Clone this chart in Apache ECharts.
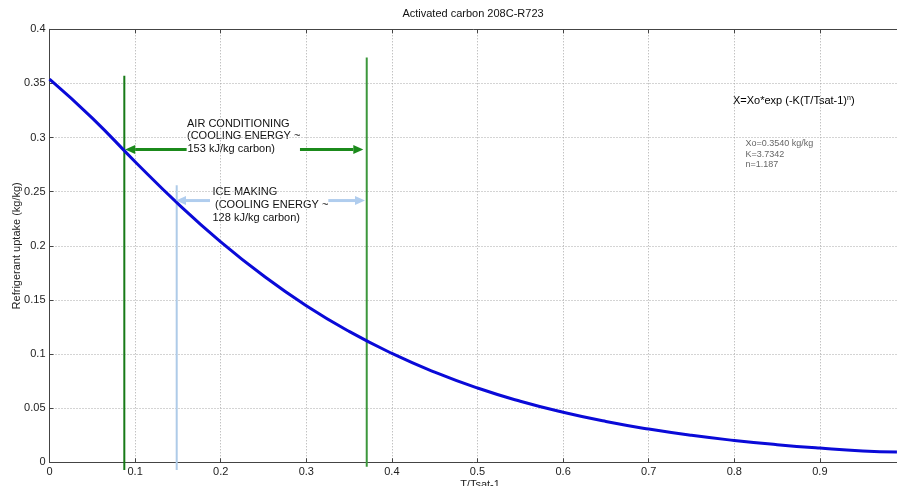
<!DOCTYPE html>
<html>
<head>
<meta charset="utf-8">
<script src="https://cdn.jsdelivr.net/npm/echarts@6/dist/echarts.min.js"></script>
<style>
  html, body { margin: 0; padding: 0; background: #fff; }
  #chart { width: 897px; height: 486px; }
</style>
</head>
<body>
<div id="chart"></div>
<script>
// uptake curve
const xValues = [0, 0.05, 0.1, 0.15, 0.2, 0.25, 0.3, 0.35, 0.4, 0.45, 0.5, 0.55, 0.6, 0.65, 0.7, 0.75, 0.8, 0.85, 0.9, 0.95, 0.99];
const uptake = [0.354, 0.318, 0.2777, 0.239, 0.2037, 0.1723, 0.1447, 0.1209, 0.1006, 0.0833, 0.0686, 0.0564, 0.0462, 0.0377, 0.0307, 0.0249, 0.0202, 0.0163, 0.0131, 0.0105, 0.0095];

const xTicks = [0, 0.1, 0.2, 0.3, 0.4, 0.5, 0.6, 0.7, 0.8, 0.9, 1];
const yTicks = [0, 0.05, 0.1, 0.15, 0.2, 0.25, 0.3, 0.35, 0.4];

// vertical markers: [x, bottom, top]
const acLeftLine = [[0.0874, -0.007, 0.357]];
const acRightLine = [[0.3706, -0.004, 0.374]];
const iceLines = [[0.1486, -0.007, 0.256]];

// arrows: [xStart, xTip, y]
const acArrows = [[0.1602, 0.0884, 0.289], [0.2926, 0.3666, 0.289]];
const iceArrows = [[0.1875, 0.1478, 0.2418], [0.3257, 0.3686, 0.2418]];

const chart = echarts.init(document.getElementById('chart'));

function vLineItem(color, width) {
  return (params, api) => {
    const p1 = api.coord([api.value(0), api.value(1)]);
    const p2 = api.coord([api.value(0), api.value(2)]);
    return {
      type: 'line',
      shape: { x1: p1[0], y1: p1[1], x2: p2[0], y2: p2[1] },
      style: { stroke: color, lineWidth: width }
    };
  };
}

function arrowItem(color, width, headLen, headHalf) {
  return (params, api) => {
    const a = api.coord([api.value(0), api.value(2)]);
    const b = api.coord([api.value(1), api.value(2)]);
    const dir = b[0] > a[0] ? 1 : -1;
    const baseX = b[0] - dir * headLen;
    return {
      type: 'group',
      children: [
        {
          type: 'line',
          shape: { x1: a[0], y1: a[1], x2: baseX, y2: b[1] },
          style: { stroke: color, lineWidth: width }
        },
        {
          type: 'polygon',
          shape: { points: [[b[0], b[1]], [baseX, b[1] - headHalf], [baseX, b[1] + headHalf]] },
          style: { fill: color }
        }
      ]
    };
  };
}

const textStyle = { fontFamily: 'Liberation Sans', fontSize: 11, fill: '#111' };
function label(x, y, text, extra) {
  return {
    type: 'text', x, y,
    style: Object.assign({}, textStyle, { text, textVerticalAlign: 'middle' }, extra || {})
  };
}

const gridLine = { show: true, lineStyle: { type: [1, 2], color: '#a8a8a8' } };

chart.setOption({
  animation: false,
  backgroundColor: '#fff',
  grid: { left: 49.5, top: 29.3, right: -8.5, bottom: 23.7, outerBoundsMode: 'none' },
  xAxis: [
    {
      type: 'value', min: 0, max: 1, interval: 0.1,
      name: 'T/Tsat-1', nameLocation: 'middle', nameGap: 17, nameMoveOverlap: false,
      nameTextStyle: { fontFamily: 'Liberation Sans', fontSize: 11, color: '#222', padding: [0, 0, 0, 5] },
      axisLine: { lineStyle: { color: '#444' } },
      axisTick: { inside: true, length: 4, lineStyle: { color: '#444' } },
      axisLabel: { margin: 4, fontFamily: 'Liberation Sans', fontSize: 11, color: '#222',
        formatter: (v) => (xTicks.includes(+v.toFixed(2)) ? String(+v.toFixed(2)) : '') },
      splitLine: gridLine
    },
    {
      type: 'value', position: 'top', min: 0, max: 1, interval: 0.1,
      axisLine: { show: true, lineStyle: { color: '#444' } },
      axisTick: { show: true, inside: true, length: 4, lineStyle: { color: '#444' } },
      axisLabel: { show: false },
      splitLine: { show: false }
    }
  ],
  yAxis: {
    type: 'value', min: 0, max: 0.4, interval: 0.05,
    name: 'Refrigerant uptake (kg/kg)', nameLocation: 'middle', nameGap: 27, nameMoveOverlap: false,
    nameTextStyle: { fontFamily: 'Liberation Sans', fontSize: 11, color: '#222' },
    axisLine: { show: true, lineStyle: { color: '#444' } },
    axisTick: { show: true, inside: true, length: 4, lineStyle: { color: '#444' } },
    axisLabel: { margin: 4, fontFamily: 'Liberation Sans', fontSize: 11, color: '#222',
      formatter: (v) => (yTicks.includes(+v.toFixed(2)) ? String(+v.toFixed(2)) : '') },
    splitLine: gridLine
  },
  series: [
    {
      type: 'custom', name: 'ac left', xAxisIndex: 0,
      renderItem: vLineItem('#177a17', 2),
      encode: { x: 0, y: [1, 2] },
      data: acLeftLine, silent: true, z: 2
    },
    {
      type: 'custom', name: 'ac right', xAxisIndex: 0,
      renderItem: vLineItem('#3c973c', 2),
      encode: { x: 0, y: [1, 2] },
      data: acRightLine, silent: true, z: 2
    },
    {
      type: 'custom', name: 'ice lines', xAxisIndex: 0,
      renderItem: vLineItem('#aecbe8', 2),
      encode: { x: 0, y: [1, 2] },
      data: iceLines, silent: true, z: 2
    },
    {
      type: 'line', name: 'uptake', xAxisIndex: 0,
      data: xValues.map((x, i) => [x, uptake[i]]),
      smooth: 0.5, showSymbol: false,
      lineStyle: { color: '#0a0ad8', width: 3 },
      z: 3
    },
    {
      type: 'custom', name: 'ac arrows', xAxisIndex: 0,
      renderItem: arrowItem('#1b8a1b', 3, 10, 4.5),
      encode: { x: [0, 1], y: 2 },
      data: acArrows, silent: true, z: 4
    },
    {
      type: 'custom', name: 'ice arrows', xAxisIndex: 0,
      renderItem: arrowItem('#b0cdee', 3, 10, 4.5),
      encode: { x: [0, 1], y: 2 },
      data: iceArrows, silent: true, z: 4
    }
  ],
  graphic: [
    label(473, 14, 'Activated carbon 208C-R723', { textAlign: 'center' }),
    label(187, 123.5, 'AIR CONDITIONING'),
    label(187, 136, '(COOLING ENERGY ~'),
    label(187.5, 148.5, '153 kJ/kg carbon)'),
    label(212.5, 191.5, 'ICE MAKING'),
    label(215, 204.5, '(COOLING ENERGY ~'),
    label(212.5, 217.5, '128 kJ/kg carbon)'),
    {
      type: 'text', x: 733, y: 101,
      style: {
        text: '{a|X=Xo*exp (-K(T/Tsat-1)}{s|n}{a|)}',
        textVerticalAlign: 'middle',
        rich: {
          a: { fontFamily: 'Liberation Sans', fontSize: 11, color: '#111' },
          s: { fontFamily: 'Liberation Sans', fontSize: 7, color: '#111', verticalAlign: 'top', padding: [0, 0, 6, 0] }
        }
      }
    },
    label(745.5, 144, 'Xo=0.3540 kg/kg', { fontSize: 9, fill: '#666' }),
    label(745.5, 154.5, 'K=3.7342', { fontSize: 9, fill: '#666' }),
    label(745.5, 165, 'n=1.187', { fontSize: 9, fill: '#666' })
  ]
});
</script>
</body>
</html>
